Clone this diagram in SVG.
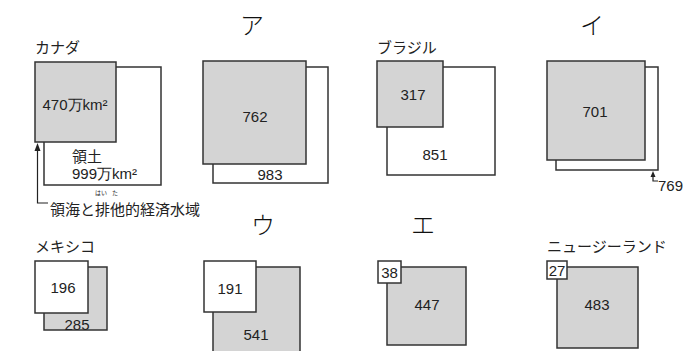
<svg xmlns="http://www.w3.org/2000/svg" width="699" height="351" viewBox="0 0 699 351">
<style>
.g{fill:#d4d4d4;stroke:#333;stroke-width:1.5}
.w{fill:#fff;stroke:#333;stroke-width:1.5}
.o{fill:none;stroke:#333;stroke-width:1.5}
.l{fill:none;stroke:#222;stroke-width:1.2}
.t{font-family:"Noto Sans CJK JP","Noto Sans",sans-serif;font-size:15px;fill:#222}
.n{font-family:"Liberation Sans","Noto Sans",sans-serif;font-size:15px;fill:#222;text-anchor:middle}
.s{text-anchor:start}
.k{font-family:"Noto Sans CJK JP",serif;font-size:24px;font-weight:300;fill:#111;text-anchor:middle}
.r{font-family:"Noto Sans CJK JP",sans-serif;font-size:6px;fill:#222}
.ah{fill:#222}
</style>
<rect width="699" height="351" fill="#fff"/>
<g id="canada">
<text class="t" x="35" y="53">カナダ</text>
<rect class="o" x="44" y="67" width="117" height="118"/>
<rect class="g" x="35" y="62" width="81" height="80"/>
<text class="n" x="75" y="110">470万km²</text>
<text class="t" x="72" y="162">領土</text>
<text class="n s" x="72" y="179">999万km²</text>
<text class="t" x="50" y="215">領海と排他的経済水域</text>
<text class="r" x="95" y="195">はい</text>
<text class="r" x="112" y="195">た</text>
</g>
<g id="a">
<text class="k" x="252" y="34">ア</text>
<rect class="o" x="213" y="67" width="115" height="116"/>
<rect class="g" x="203" y="61" width="103" height="103"/>
<text class="n" x="255" y="122">762</text>
<text class="n" x="270" y="180">983</text>
</g>
<g id="brazil">
<text class="t" x="377" y="53">ブラジル</text>
<rect class="o" x="387" y="67" width="108" height="108"/>
<rect class="g" x="377" y="61" width="66" height="66"/>
<text class="n" x="413" y="100">317</text>
<text class="n" x="435" y="160">851</text>
</g>
<g id="i">
<text class="k" x="592" y="34">イ</text>
<rect class="o" x="556" y="67" width="102" height="103"/>
<rect class="g" x="547" y="61" width="98" height="99"/>
<text class="n" x="595" y="117">701</text>
<text class="n s" x="658" y="191">769</text>
</g>
<g id="mexico">
<text class="t" x="35" y="252">メキシコ</text>
<rect class="g" x="44" y="267" width="63" height="63"/>
<rect class="w" x="35" y="261" width="53" height="52"/>
<text class="n" x="63" y="293">196</text>
<text class="n" x="77" y="330">285</text>
</g>
<g id="u">
<text class="k" x="263" y="234">ウ</text>
<rect class="g" x="213" y="267" width="87" height="90"/>
<rect class="w" x="204" y="261" width="52" height="51"/>
<text class="n" x="230" y="294">191</text>
<text class="n" x="256" y="340">541</text>
</g>
<g id="e">
<text class="k" x="423" y="234">エ</text>
<rect class="g" x="387" y="267" width="79" height="78"/>
<rect class="w" x="378" y="261" width="23" height="22"/>
<text class="n" x="389.5" y="278">38</text>
<text class="n" x="427" y="310">447</text>
</g>
<g id="nz">
<text class="t" x="547" y="252">ニュージーランド</text>
<rect class="g" x="557" y="267" width="81" height="81"/>
<rect class="w" x="547" y="261" width="20" height="18"/>
<text class="n" x="557" y="276">27</text>
<text class="n" x="597" y="310">483</text>
</g>
<g id="connectors">
<path class="l" d="M37.5,150 V203 H48"/>
<polygon class="ah" points="37.5,143 34.5,151 40.5,151"/>
<path class="l" d="M653,176 V181 H658"/>
<polygon class="ah" points="653,171 650.5,177 655.5,177"/>
</g>
</svg>
